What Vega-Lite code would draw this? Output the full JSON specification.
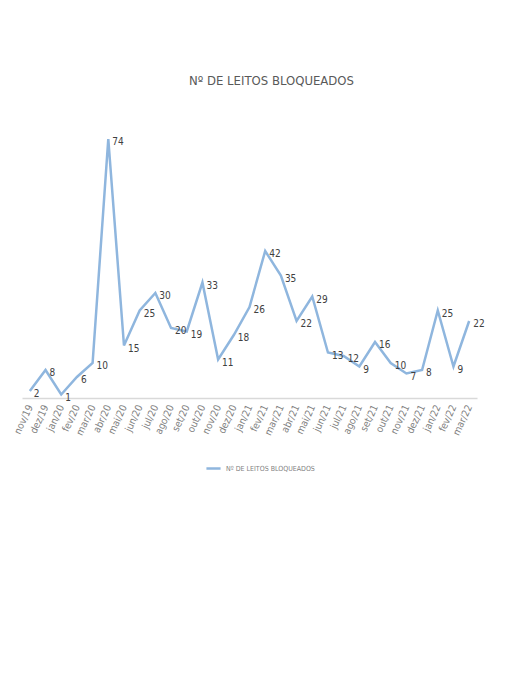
{
  "$schema": "https://vega.github.io/schema/vega-lite/v6.json",
  "width": 455,
  "height": 280,
  "autosize": {"type": "none"},
  "padding": {"left": 22, "top": 118, "right": 31, "bottom": 278},
  "background": "white",
  "title": {
    "text": "Nº DE LEITOS BLOQUEADOS",
    "fontSize": 13,
    "font": "Liberation Sans Narrow, DejaVu Sans Condensed, sans-serif",
    "fontWeight": "normal",
    "color": "#595959",
    "offset": 30,
    "dx": 22,
    "anchor": "middle"
  },
  "config": {
    "view": {"stroke": null},
    "font": "Liberation Sans Narrow, DejaVu Sans Condensed, sans-serif"
  },
  "data": {
    "values": [
      {"mes": "nov/19", "leitos": 2},
      {"mes": "dez/19", "leitos": 8},
      {"mes": "jan/20", "leitos": 1},
      {"mes": "fev/20", "leitos": 6},
      {"mes": "mar/20", "leitos": 10},
      {"mes": "abr/20", "leitos": 74},
      {"mes": "mai/20", "leitos": 15},
      {"mes": "jun/20", "leitos": 25},
      {"mes": "jul/20", "leitos": 30},
      {"mes": "ago/20", "leitos": 20},
      {"mes": "set/20", "leitos": 19},
      {"mes": "out/20", "leitos": 33},
      {"mes": "nov/20", "leitos": 11},
      {"mes": "dez/20", "leitos": 18},
      {"mes": "jan/21", "leitos": 26},
      {"mes": "fev/21", "leitos": 42},
      {"mes": "mar/21", "leitos": 35},
      {"mes": "abr/21", "leitos": 22},
      {"mes": "mai/21", "leitos": 29},
      {"mes": "jun/21", "leitos": 13},
      {"mes": "jul/21", "leitos": 12},
      {"mes": "ago/21", "leitos": 9},
      {"mes": "set/21", "leitos": 16},
      {"mes": "out/21", "leitos": 10},
      {"mes": "nov/21", "leitos": 7},
      {"mes": "dez/21", "leitos": 8},
      {"mes": "jan/22", "leitos": 25},
      {"mes": "fev/22", "leitos": 9},
      {"mes": "mar/22", "leitos": 22}
    ]
  },
  "encoding": {
    "x": {
      "field": "mes",
      "type": "ordinal",
      "sort": null,
      "scale": {"paddingInner": 0, "paddingOuter": 0.5},
      "axis": {
        "title": null,
        "labelAngle": -65,
        "labelFontSize": 10,
        "labelColor": "#7f7f7f",
        "domainColor": "#d9d9d9",
        "domainWidth": 1.5,
        "ticks": false,
        "labelPadding": 7
      }
    },
    "y": {
      "field": "leitos",
      "type": "quantitative",
      "scale": {"domain": [0, 80], "nice": false},
      "axis": null
    }
  },
  "layer": [
    {
      "mark": {"type": "line", "strokeWidth": 2.5},
      "encoding": {
        "color": {
          "datum": "Nº DE LEITOS BLOQUEADOS",
          "scale": {"range": ["#8fb6de"]},
          "legend": {
            "title": null,
            "orient": "none",
            "legendX": 183,
            "legendY": 342,
            "direction": "horizontal",
            "labelFontSize": 7,
            "labelColor": "#7f7f7f",
            "symbolType": "stroke",
            "symbolStrokeWidth": 2.5,
            "symbolSize": 200
          }
        }
      }
    },
    {
      "mark": {
        "type": "text",
        "align": "left",
        "baseline": "middle",
        "dx": 4,
        "dy": 3,
        "fontSize": 10,
        "color": "#404040"
      },
      "encoding": {
        "text": {"field": "leitos", "type": "quantitative"}
      }
    }
  ]
}
